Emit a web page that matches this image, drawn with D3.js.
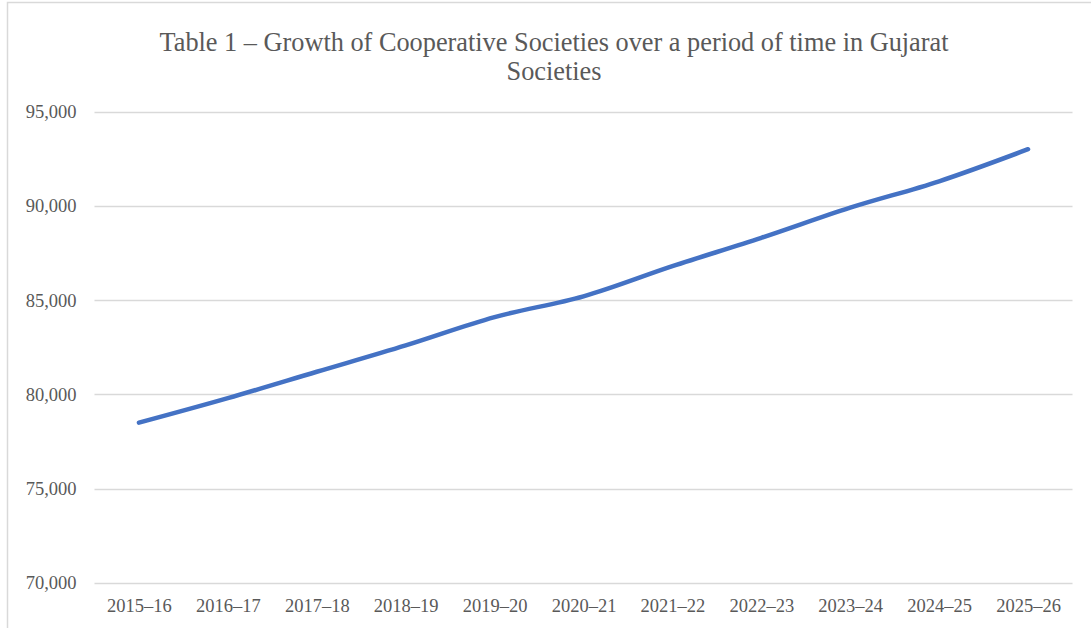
<!DOCTYPE html>
<html>
<head>
<meta charset="utf-8">
<script src="https://cdn.jsdelivr.net/npm/d3@7"></script>
<style>
  html, body { margin: 0; padding: 0; background: #ffffff; }
  svg { display: block; }
</style>
</head>
<body>
<svg id="chart" width="1091" height="628"></svg>
<script>
const categories = ["2015–16","2016–17","2017–18","2018–19","2019–20","2020–21","2021–22","2022–23","2023–24","2024–25","2025–26"];
const societies = [78500, 79800, 81200, 82600, 84100, 85200, 86800, 88300, 89900, 91300, 93000];
const yTicks = [70000, 75000, 80000, 85000, 90000, 95000];
const titleLines = ["Table 1 – Growth of Cooperative Societies over a period of time in Gujarat", "Societies"];

const svg = d3.select("#chart");
const W = 1091, H = 628;
const plot = { left: 94.5, right: 1072.5, top: 111.5, bottom: 583 };
const font = "'Liberation Serif', 'Times New Roman', serif";
const textColor = "#595959";

// chart frame
svg.append("rect")
  .attr("x", 7.5).attr("y", 2.5)
  .attr("width", W + 20).attr("height", H + 20)
  .attr("fill", "#ffffff").attr("stroke", "#d9d9d9").attr("stroke-width", 1.5);

const x = d3.scalePoint().domain(categories).range([plot.left, plot.right]).padding(0.5);
const y = d3.scaleLinear().domain([70000, 95000]).range([plot.bottom, plot.top]);

// gridlines
svg.append("g")
  .selectAll("line").data(yTicks).join("line")
  .attr("x1", plot.left).attr("x2", plot.right)
  .attr("y1", d => Math.round(y(d)) + 0.5).attr("y2", d => Math.round(y(d)) + 0.5)
  .attr("stroke", "#d9d9d9").attr("stroke-width", 1.5);

// y axis labels
const yAxis = d3.axisLeft(y).tickValues(yTicks).tickFormat(d3.format(",")).tickSize(0).tickPadding(18);
const gy = svg.append("g").attr("transform", `translate(${plot.left},0)`).call(yAxis);
gy.select(".domain").remove();
gy.selectAll("text").attr("font-family", font).attr("font-size", 18.5).attr("fill", textColor);

// x axis labels
const xAxis = d3.axisBottom(x).tickSize(0).tickPadding(16);
const gx = svg.append("g").attr("transform", `translate(0,${plot.bottom})`).call(xAxis);
gx.select(".domain").remove();
gx.selectAll("text").attr("font-family", font).attr("font-size", 18.5).attr("fill", textColor);

// line
const line = d3.line()
  .x((d, i) => x(categories[i]))
  .y(d => y(d))
  .curve(d3.curveCatmullRom.alpha(0.5));
svg.append("path")
  .datum(societies)
  .attr("d", line)
  .attr("fill", "none")
  .attr("stroke", "#4472C4")
  .attr("stroke-width", 4.5)
  .attr("stroke-linecap", "round")
  .attr("stroke-linejoin", "round");

// title
svg.append("g").selectAll("text").data(titleLines).join("text")
  .attr("x", 554).attr("y", (d, i) => 51 + i * 29)
  .attr("text-anchor", "middle")
  .attr("font-family", font).attr("font-size", 26.3)
  .attr("fill", textColor)
  .text(d => d);
</script>
</body>
</html>
